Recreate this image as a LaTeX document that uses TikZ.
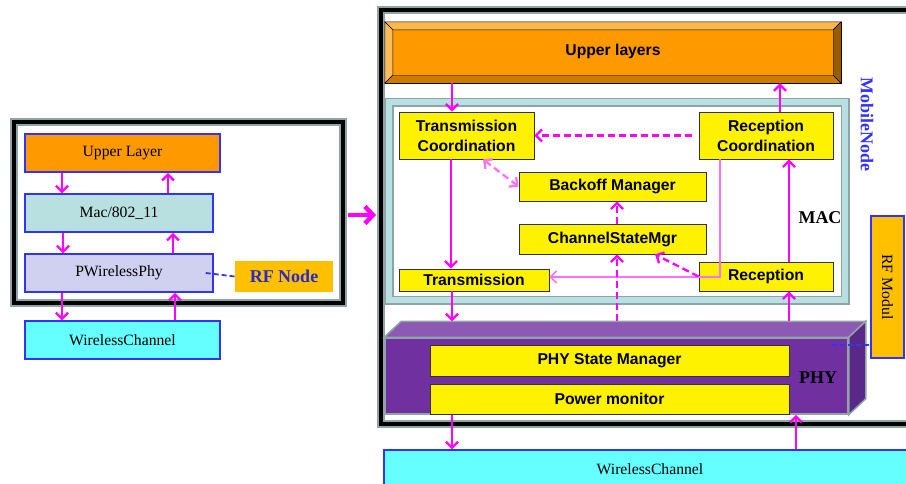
\documentclass[tikz,border=0pt]{standalone}
\usepackage{fontspec}
\setmainfont{Liberation Serif}
\newfontfamily\arialf{Liberation Sans}
\usetikzlibrary{arrows.meta}
\definecolor{mag}{HTML}{FF00FF}
\definecolor{lmag}{HTML}{FF70FF}
\definecolor{frgray}{HTML}{8FA5A5}
\definecolor{macteal}{HTML}{B8DFE1}
\definecolor{orng}{HTML}{FF9900}
\definecolor{rfyel}{HTML}{FFC000}
\definecolor{nblue}{HTML}{3333FF}
\definecolor{phyv}{HTML}{7030A0}
\definecolor{phytop}{HTML}{8C5AB4}
\definecolor{physide}{HTML}{5A2888}
\definecolor{macbox}{HTML}{B8E0E0}
\definecolor{phybox}{HTML}{D0D0F0}
\definecolor{chan}{HTML}{66FFFF}

\begin{document}
\begin{tikzpicture}[x=1pt,y=-1pt,
	lbox/.style={draw=nblue,line width=1.5pt,font=\fontsize{15.7}{18}\selectfont},
	ybox/.style={draw=black!80,fill=yellow,line width=0.8pt,align=center,inner sep=0pt,
		font=\arialf\bfseries\fontsize{15.7}{20}\selectfont},
	arr/.style={mag,line width=2.3pt,-{Straight Barb[length=6pt,width=12pt]}},
	darr/.style={arr,dash pattern=on 7pt off 4pt},
	rfline/.style={nblue,line width=1.8pt,dash pattern=on 5pt off 3pt},
	bigtxt/.style={font=\bfseries\fontsize{18}{20}\selectfont}]
	\useasboundingbox (0,0) rectangle (906,483);
	\clip (0,0) rectangle (906,483);

	% frames
	\draw[frgray,line width=8pt] (13.5,121.5) rectangle (342.5,302.5);
	\draw[black,line width=4pt] (13.5,121.5) rectangle (342.5,302.5);
	\draw[frgray,line width=8pt] (380.5,9.5) rectangle (930,424);
	\draw[black,line width=4pt] (380.5,9.5) rectangle (930,424);
	\draw[frgray,line width=9pt] (389,102) rectangle (845,300);
	\draw[macteal,line width=5.5pt] (389,102) rectangle (845,300);

	% left side: RF node
	\node[lbox,fill=orng,minimum width=195pt,minimum height=38pt] (ul) at (122.5,153) {Upper Layer};
	\node[lbox,fill=macbox,minimum width=188pt,minimum height=38pt] (mac) at (119,213) {Mac/802\_11};
	\node[lbox,fill=phybox,minimum width=188pt,minimum height=38pt] (phy) at (119,273) {PWirelessPhy};
	\node[fill=rfyel,minimum width=98pt,minimum height=31pt,text=nblue!80!black,bigtxt] (rfn) at (284,276.5) {RF Node};
	\node[lbox,fill=chan,minimum width=195pt,minimum height=38pt] (wch) at (122.5,340) {WirelessChannel};

	\draw[arr] (ul.south -| 62,0) -- (mac.north -| 62,0);
	\draw[arr] (mac.north -| 168,0) -- (ul.south -| 168,0);
	\draw[arr] (mac.south -| 63,0) -- (phy.north -| 63,0);
	\draw[arr] (phy.north -| 173,0) -- (mac.south -| 173,0);
	\draw[arr] (phy.south -| 62,0) -- (wch.north -| 62,0);
	\draw[arr] (wch.north -| 175,0) -- (phy.south -| 175,0);
	\draw[rfline] ([xshift=-8pt]phy.east) -- (rfn.west);

	\coordinate (lft) at (348,215);
	\coordinate (rgt) at (376,215);
	\draw[mag,line width=4.5pt,-{Straight Barb[length=8pt,width=17pt]}] (lft) -- (rgt);

	% right side: MobileNode
	\node[draw=black,fill=orng,minimum width=456pt,minimum height=61pt,
		font=\arialf\bfseries\fontsize{15.7}{18}\selectfont] (upl) at (613,52.5) {\raisebox{6pt}{Upper layers}};
	\filldraw[fill=orng!70!white,draw=black,thin] (upl.north west) -- (upl.north east)
		-- ([shift={(-8,8)}]upl.north east) -- ([shift={(8,8)}]upl.north west) -- cycle;
	\filldraw[fill=orng!65!white,draw=black,thin] (upl.north west) -- ([shift={(8,8)}]upl.north west)
		-- ([shift={(8,-8)}]upl.south west) -- (upl.south west) -- cycle;
	\filldraw[fill=orng!80!black,draw=black,thin] (upl.south west) -- (upl.south east)
		-- ([shift={(-8,-8)}]upl.south east) -- ([shift={(8,-8)}]upl.south west) -- cycle;
	\filldraw[fill=orng!60!black,draw=black,thin] (upl.north east) -- (upl.south east)
		-- ([shift={(-8,-8)}]upl.south east) -- ([shift={(-8,8)}]upl.north east) -- cycle;

	\node[rotate=-90,text=nblue,bigtxt] (mn) at (867,124) {MobileNode};
	\node[bigtxt] (mact) at (820,218) {MAC};

	\node[ybox,minimum width=135pt,minimum height=47pt] (tc) at (466.5,135.5) {Transmission\\Coordination};
	\node[ybox,minimum width=134pt,minimum height=47pt] (rc) at (766,135.5) {Reception\\Coordination};
	\node[ybox,minimum width=187pt,minimum height=29pt] (bm) at (612.5,186.5) {Backoff Manager};
	\node[ybox,minimum width=187pt,minimum height=30pt] (cs) at (612.5,239) {ChannelStateMgr};
	\node[ybox,minimum width=150pt,minimum height=22pt] (tx) at (474,280) {\raisebox{-4pt}{Transmission}};
	\node[ybox,minimum width=134pt,minimum height=29pt] (rx) at (766,276.5) {Reception};

	% PHY block
	\node[draw=frgray,fill=phyv,line width=1.5pt,minimum width=463pt,minimum height=76pt] (phyb) at (616.5,376) {};
	\filldraw[fill=phytop,draw=frgray,line width=1.5pt] (phyb.north west) -- ([shift={(17,-16)}]phyb.north west)
		-- ([shift={(17,-16)}]phyb.north east) -- (phyb.north east) -- cycle;
	\filldraw[fill=physide,draw=frgray,line width=1.5pt] (phyb.north east) -- ([shift={(17,-16)}]phyb.north east)
		-- ([shift={(17,-16)}]phyb.south east) -- (phyb.south east) -- cycle;
	\coordinate (phyt) at ([yshift=16pt]phyb.north);
	\node[ybox,minimum width=359pt,minimum height=31pt] (psm) at (609.5,360.5) {PHY State Manager};
	\node[ybox,minimum width=359pt,minimum height=30pt] (pm) at (609.5,399) {Power monitor};
	\node[bigtxt] (phyt2) at (818,378) {PHY};

	\node[lbox,fill=chan,minimum width=532pt,minimum height=38pt] (rwc) at (650,469) {WirelessChannel};
	\node[draw=nblue,line width=1.8pt,fill=rfyel,minimum width=142pt,minimum height=33pt,rotate=-90,
		font=\fontsize{15.7}{18}\selectfont] (rfm) at (887.5,287) {RF Modul};

	% arrows
	\draw[arr] (upl.south -| 452,0) -- (tc.north -| 452,0);
	\draw[arr] (rc.north -| 780,0) -- (upl.south -| 780,0);
	\draw[darr,shorten <=7pt] (rc.west) -- (tc.east);
	\draw[darr,lmag,{Straight Barb[length=6pt,width=12pt]}-{Straight Barb[length=6pt,width=12pt]}]
		(tc.south -| 483,0) -- (bm.west);
	\draw[arr] (tc.south -| 451,0) -- (tx.north -| 451,0);
	\draw[arr] (rx.north -| 789,0) -- (rc.south -| 789,0);
	\draw[arr,lmag,line width=1.6pt] (rc.south -| 720,0) |- ([yshift=3pt]tx.east);
	\draw[darr] (rx.west) -- (cs.south -| 655,0);
	\draw[darr] (cs.north -| 617,0) -- (bm.south -| 617,0);
	\draw[darr] (phyt -| 617,0) -- (cs.south -| 617,0);
	\draw[arr] (tx.south -| 452,0) -- (phyt -| 452,0);
	\draw[arr] (phyt -| 789,0) -- (rx.south -| 789,0);
	\draw[arr] (phyb.south -| 452,0) -- (rwc.north -| 452,0);
	\draw[arr] (rwc.north -| 796,0) -- (phyb.south -| 796,0);
	\draw[rfline] ([shift={(-38,-14)}]rfm.south east) -- ([yshift=14pt]rfm.south east);
\end{tikzpicture}
\end{document}
